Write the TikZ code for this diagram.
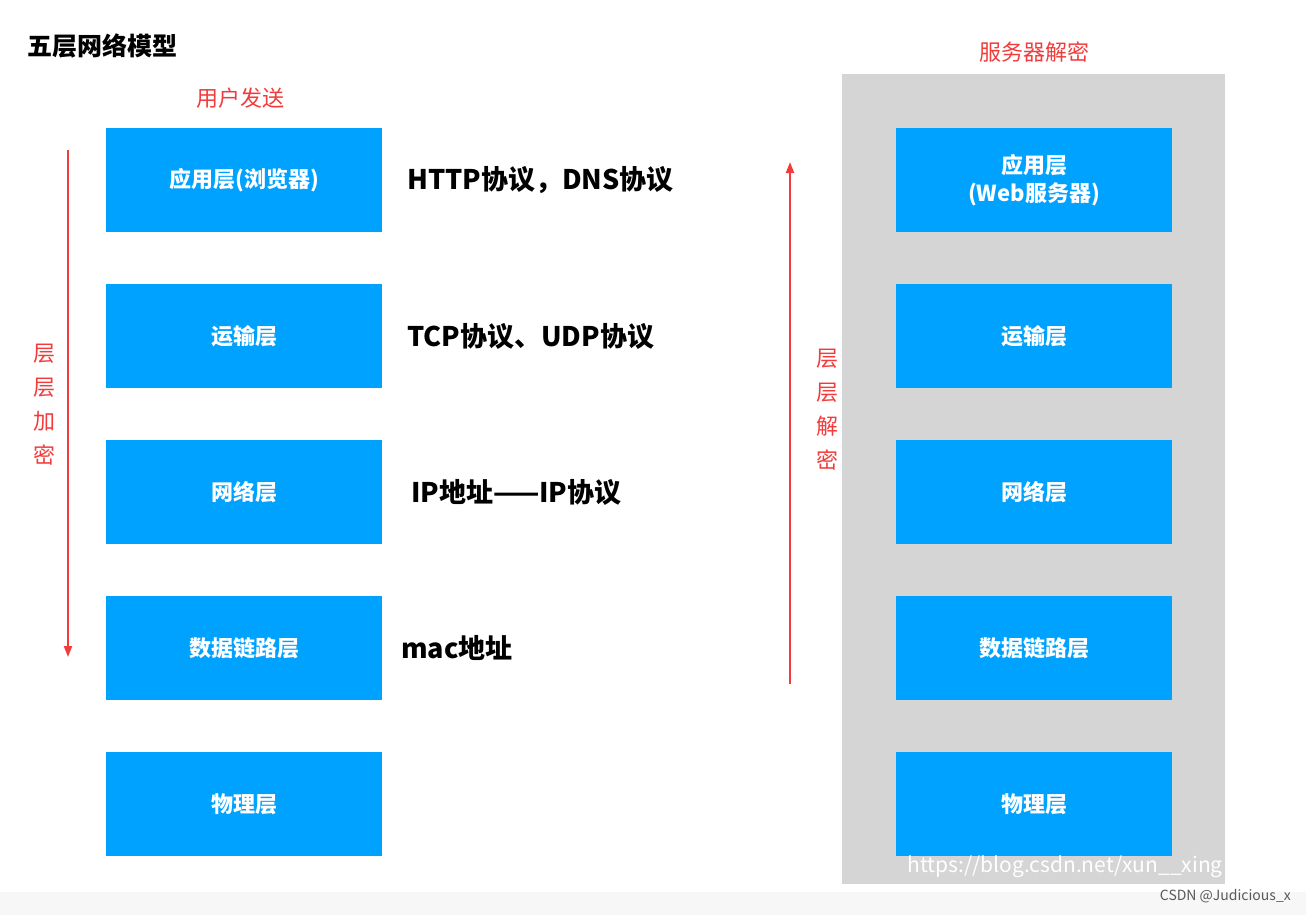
\documentclass[tikz,border=0pt]{standalone}
\usepackage{fontspec}
\setmainfont{Noto Sans CJK SC}
\newfontfamily\cjkb{Noto Sans CJK SC Bold}
\usetikzlibrary{arrows.meta}
\definecolor{boxblue}{HTML}{00A2FF}
\definecolor{bggray}{HTML}{D5D5D5}
\definecolor{redc}{HTML}{F23B3B}
\tikzset{
 layer/.style={fill=boxblue,minimum width=276pt,minimum height=104pt,inner sep=0pt,text=white,font=\fontsize{22}{28}\selectfont\bfseries,align=center},
 proto/.style={anchor=west,font=\fontsize{27}{30}\selectfont\bfseries,inner sep=0pt},
 redlab/.style={text=redc,font=\fontsize{22}{34}\selectfont,align=center,inner sep=0pt},
 redarr/.style={draw=redc,line width=2pt,-{Triangle[length=11pt,width=8pt]}}
}
\begin{document}
\begin{tikzpicture}[x=1pt,y=-1pt]
\useasboundingbox[fill=white] (0,0) rectangle (1306,915);
\fill[gray!6] (0,892) rectangle (1306,915);
\fill[bggray] (842,74) rectangle (1225,884);
\node[anchor=west,font=\fontsize{25}{30}\selectfont\bfseries,inner sep=0pt] (title) at (27,46) {五层网络模型};
\node[redlab] (send) at (240,98) {用户发送};
\node[redlab] (srv) at (1034,52) {服务器解密};
\foreach \n/\y/\t in {a/180/应用层(浏览器),b/336/运输层,c/492/网络层,d/648/数据链路层,e/804/物理层}
  \node[layer] (L\n) at (244,\y) {\t};
\node[layer] (Ra) at (1034,180) {应用层\\(Web服务器)};
\foreach \n/\y/\t in {b/336/运输层,c/492/网络层,d/648/数据链路层,e/804/物理层}
  \node[layer] (R\n) at (1034,\y) {\t};
\node[proto] (p1) at (407,180) {HTTP协议，DNS协议};
\node[proto] (p2) at (407,336) {TCP协议、UDP协议};
\node[proto] (p3) at (411,492) {IP地址——IP协议};
\node[proto] (p4) at (401,648) {mac地址};
\coordinate (s1) at (68,150); \coordinate (e1) at (68,657);
\draw[redarr] (s1) -- (e1);
\coordinate (s2) at (790,684); \coordinate (e2) at (790,162);
\draw[redarr] (s2) -- (e2);
\node[redlab] (enc) at (44,405) {层\\层\\加\\密};
\node[redlab] (dec) at (827,410) {层\\层\\解\\密};
\node[anchor=east,text=white,font=\fontsize{21}{24}\selectfont,inner sep=0pt] (wm) at (1223,867) {https://blog.csdn.net/xun\_\_xing};
\node[anchor=east,text=gray!70!black,font=\fontsize{14}{16}\selectfont,inner sep=0pt] (csdn) at (1291,896) {CSDN @Judicious\_x};
\end{tikzpicture}
\end{document}
